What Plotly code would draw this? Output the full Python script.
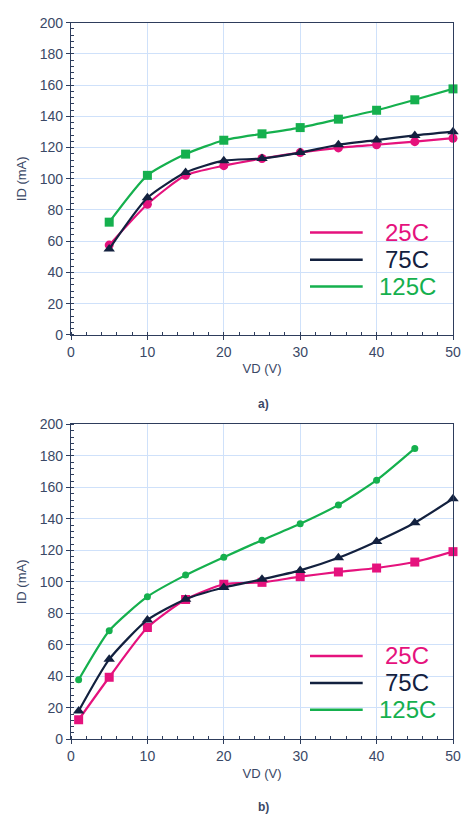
import plotly.graph_objects as go

# ---------------- data ----------------
vd_a = [5, 10, 15, 20, 25, 30, 35, 40, 45, 50]
id_a_25 = [57.5, 83.7, 102.2, 108.4, 113.0, 116.8, 119.8, 121.8, 123.8, 126.0]
id_a_75 = [55.0, 87.8, 104.0, 111.6, 113.0, 116.8, 121.8, 124.8, 127.8, 130.2]
id_a_125 = [72.2, 102.2, 115.8, 124.7, 128.8, 132.8, 138.2, 143.9, 150.6, 157.6]

vd_b = [1, 5, 10, 15, 20, 25, 30, 35, 40, 45, 50]
id_b_25 = [12.4, 39.4, 71.0, 88.8, 98.5, 99.7, 103.3, 106.3, 108.8, 112.6, 119.2]
id_b_75 = [18.0, 50.8, 75.8, 89.0, 96.4, 101.6, 107.3, 115.3, 125.7, 137.6, 152.8]
vd_b_125 = [1, 5, 10, 15, 20, 25, 30, 35, 40, 45]
id_b_125 = [37.8, 69.0, 90.6, 104.3, 115.7, 126.5, 136.9, 148.9, 164.6, 184.8]

legend_labels = ["25C", "75C", "125C"]
x_title = "VD (V)"
y_title = "ID (mA)"
panel_labels = ["a)", "b)"]

# ---------------- styles ----------------
PINK = "#e5127d"
NAVY = "#13213f"
GREEN = "#15b04e"
COLORS = [PINK, NAVY, GREEN]
AXIS = "#2e3d5c"
TICKC = "#3a4866"
GRID = "#cfe1fa"
FONT = "Liberation Sans, Arial, sans-serif"

W, H = 462, 827
L, R = 71, 9


def py(p):
    return 1 - p / H


def px(p):
    return (p - L) / (W - L - R)


fig = go.Figure()


def add(x, y, color, symbol, size, xa, ya):
    fig.add_trace(go.Scatter(
        x=x, y=y, mode="lines+markers",
        line=dict(color=color, width=2.2, shape="spline", smoothing=0.6),
        marker=dict(color=color, symbol=symbol, size=size),
        xaxis=xa, yaxis=ya, showlegend=False, cliponaxis=False))


add(vd_a, id_a_25, PINK, "circle", 9, "x", "y")
add(vd_a, id_a_75, NAVY, "triangle-up", 10, "x", "y")
add(vd_a, id_a_125, GREEN, "square", 9, "x", "y")

add(vd_b, id_b_25, PINK, "square", 9, "x2", "y2")
add(vd_b, id_b_75, NAVY, "triangle-up", 10, "x2", "y2")
add(vd_b_125, id_b_125, GREEN, "circle", 7, "x2", "y2")

xax = dict(range=[0, 50], dtick=10, showgrid=True, gridcolor=GRID, gridwidth=1,
           showline=True, linecolor=AXIS, linewidth=1.3, mirror=True,
           ticks="outside", ticklen=4, tickcolor=AXIS, zeroline=False,
           minor=dict(dtick=2, ticks="inside", ticklen=3, tickcolor=AXIS, showgrid=False),
           tickfont=dict(family=FONT, size=14, color=TICKC),
           title=dict(text=x_title, font=dict(family=FONT, size=13, color=TICKC), standoff=5))
yax = dict(range=[0, 200], dtick=20, showgrid=True, gridcolor=GRID, gridwidth=1,
           showline=True, linecolor=AXIS, linewidth=1.3, mirror=True,
           ticks="outside", ticklen=4, tickcolor=AXIS, zeroline=False,
           minor=dict(dtick=4, ticks="inside", ticklen=3, tickcolor=AXIS, showgrid=False),
           tickfont=dict(family=FONT, size=14, color=TICKC),
           title=dict(text=y_title, font=dict(family=FONT, size=13, color=TICKC), standoff=10))

top_dom = [py(333.3), py(15)]
bot_dom = [py(745.7), py(424.7)]

fig.update_layout(
    width=W, height=H,
    margin=dict(l=L, r=R, t=0, b=0),
    paper_bgcolor="white", plot_bgcolor="white",
    font=dict(family=FONT),
    xaxis=dict(xax, domain=[0, 1], anchor="y"),
    yaxis=dict(yax, domain=top_dom, anchor="x"),
    xaxis2=dict(xax, domain=[0, 1], anchor="y2"),
    yaxis2=dict(yax, domain=bot_dom, anchor="x2"),
)

# custom legends
legend_rows = [[229, 256.7, 284], [660.7, 688.3, 715.5]]
shapes = []
annotations = []
for rows in legend_rows:
    for label, color, yy in zip(legend_labels, COLORS, rows):
        shapes.append(dict(type="line", xref="paper", yref="paper",
                           x0=px(310), x1=px(362.7), y0=py(yy), y1=py(yy),
                           line=dict(color=color, width=2.5)))
        annotations.append(dict(text=label, xref="paper", yref="paper",
                                x=px(407), y=py(yy), xanchor="center", yanchor="middle",
                                showarrow=False, font=dict(family=FONT, size=24, color=color)))

for lab, yy in zip(panel_labels, [404, 815]):
    annotations.append(dict(text="<b>" + lab + "</b>", xref="paper", yref="paper",
                            x=px(263), y=py(yy), xanchor="center", yanchor="middle",
                            showarrow=False, font=dict(family=FONT, size=12, color=TICKC)))

fig.update_layout(shapes=shapes, annotations=annotations)

fig.write_html("out.html")
